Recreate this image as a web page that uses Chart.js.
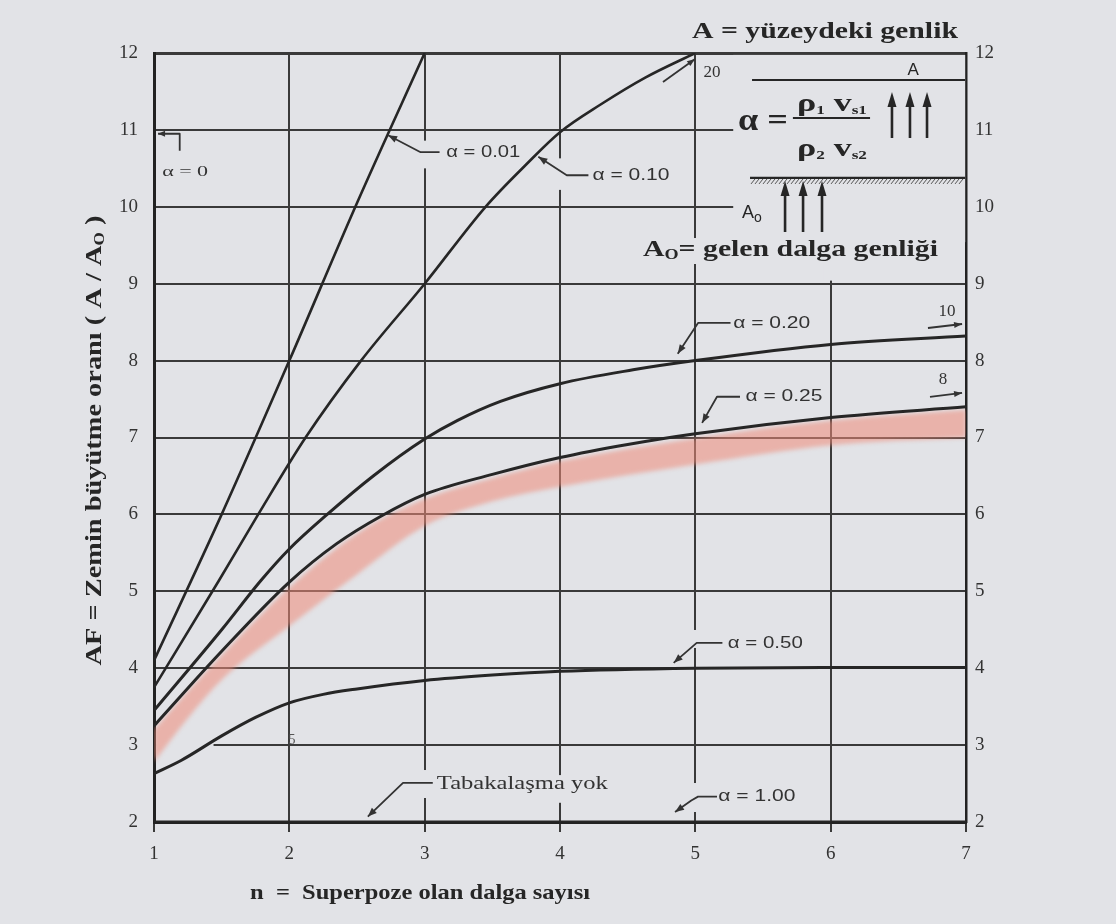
<!DOCTYPE html>
<html><head><meta charset="utf-8">
<script src="https://cdn.jsdelivr.net/npm/chart.js@4.4.1/dist/chart.umd.min.js"></script>
<style>
html,body{margin:0;padding:0;background:#e2e3e7;}
canvas{display:block;}
</style></head><body>
<canvas id="c" width="1116" height="924"></canvas>
<script>
// ---------- tick labels ----------
const xTicks = [1, 2, 3, 4, 5, 6, 7];
const yTicks = [2, 3, 4, 5, 6, 7, 8, 9, 10, 11, 12];

// ---------- series (n = superposed waves, AF = amplification) ----------
const n_a001 = [1, 1.5, 2, 2.5, 3];
const af_a001 = [4.1, 6.0, 8.0, 10.05, 12.0];

const n_a010 = [1, 1.48, 1.77, 2.12, 2.53, 3, 3.45, 3.75, 4, 4.3, 4.63, 5];
const af_a010 = [3.75, 5.14, 6.0, 7.0, 8.0, 9.0, 10.0, 10.55, 10.97, 11.33, 11.68, 12.0];

const n_a020 = [1, 1.5, 1.79, 2, 2.28, 2.62, 3, 3.24, 3.56, 4, 4.54, 5, 6, 7];
const af_a020 = [3.45, 4.5, 5.14, 5.55, 6.0, 6.5, 6.98, 7.22, 7.47, 7.7, 7.88, 8.0, 8.21, 8.32];

const n_a025 = [1, 1.5, 2, 2.35, 2.68, 3, 3.5, 4, 4.5, 5, 6, 7];
const af_a025 = [3.25, 4.22, 5.12, 5.62, 5.98, 6.26, 6.52, 6.74, 6.91, 7.05, 7.26, 7.4];

const n_a050 = [1, 1.2, 1.5, 1.75, 2, 2.25, 2.5, 3, 3.5, 4, 5, 6, 7];
const af_a050 = [2.63, 2.8, 3.12, 3.36, 3.55, 3.66, 3.73, 3.84, 3.91, 3.96, 4.0, 4.01, 4.01];

const n_a100 = [1, 7];
const af_a100 = [2, 2];

// shaded (pink) band
const n_band = [1, 1.25, 1.5, 2, 2.5, 3, 3.5, 4, 5, 6, 7];
const af_bandLow = [2.78, 3.35, 3.85, 4.55, 5.22, 5.85, 6.17, 6.36, 6.65, 6.9, 7.0];
const af_bandHigh = [3.2, 3.7, 4.17, 5.05, 5.75, 6.2, 6.47, 6.69, 6.99, 7.22, 7.36];

// ---------- annotation layout (data coordinates) ----------
const BG = '#e2e3e7';
const INK = '#262626';
const leaderLabels = [
  {text: 'α = 0.01', pts: [[2.73, 10.93], [2.97, 10.71], [3.11, 10.71]], at: [3.16, 10.71], w: 74},
  {text: 'α = 0.10', pts: [[3.84, 10.65], [4.05, 10.41], [4.21, 10.41]], at: [4.24, 10.41], w: 77},
  {text: 'α = 0.20', pts: [[4.87, 8.09], [5.02, 8.49], [5.26, 8.49]], at: [5.28, 8.49], w: 77},
  {text: 'α = 0.25', pts: [[5.05, 7.19], [5.16, 7.53], [5.33, 7.53]], at: [5.37, 7.53], w: 77},
  {text: 'α = 0.50', pts: [[4.84, 4.07], [5.01, 4.33], [5.20, 4.33]], at: [5.24, 4.33], w: 75},
  {text: 'α = 1.00', pts: [[4.85, 2.13], [4.97, 2.28], [5.02, 2.33], [5.16, 2.33]], at: [5.17, 2.33], w: 77},
  {text: 'Tabakalaşma yok', pts: [[2.58, 2.07], [2.84, 2.51], [3.06, 2.51]], at: [3.09, 2.49], w: 171, serif: true}
];
const knockouts = [
  [5.28, 11.975, 6.994, 9.54],
  [5.95, 9.54, 6.03, 9.04],
  [4.59, 9.594, 6.845, 9.256],
  [2.97, 10.86, 3.03, 10.50],
  [3.97, 10.63, 4.03, 10.22],
  [2.97, 2.676, 3.03, 2.312],
  [3.97, 2.61, 4.03, 2.25],
  [4.97, 2.507, 5.03, 2.13],
  [4.97, 4.497, 5.03, 4.263],
  [1.015, 3.04, 1.44, 2.96]
];

function pts(xs, ys) { return xs.map((x, i) => ({x: x, y: ys[i]})); }
const curveStyle = {borderColor: INK, borderWidth: 2.6, pointRadius: 0, fill: false,
  cubicInterpolationMode: 'monotone', order: 0};

function arrowHead(ctx, fx, fy, tx, ty, len, w) {
  const a = Math.atan2(ty - fy, tx - fx);
  ctx.beginPath();
  ctx.moveTo(tx, ty);
  ctx.lineTo(tx - len * Math.cos(a) + w * Math.sin(a), ty - len * Math.sin(a) - w * Math.cos(a));
  ctx.lineTo(tx - len * Math.cos(a) - w * Math.sin(a), ty - len * Math.sin(a) + w * Math.cos(a));
  ctx.closePath();
  ctx.fill();
}

function drawRuns(ctx, runs, x, y, o) {
  ctx.save();
  ctx.translate(x, y);
  if (o.rot) ctx.rotate(o.rot);
  const fam = o.family || 'Liberation Serif';
  const wt = o.weight || 'normal';
  const widths = runs.map(r => { ctx.font = wt + ' ' + r.size + 'px "' + fam + '"'; return ctx.measureText(r.t).width; });
  const total = widths.reduce((a, b) => a + b, 0);
  const sx = o.target ? o.target / total : 1;
  ctx.scale(sx, 1);
  let cur = o.align === 'center' ? -total / 2 : (o.align === 'right' ? -total : 0);
  ctx.textBaseline = 'middle';
  ctx.textAlign = 'left';
  ctx.fillStyle = o.color || INK;
  runs.forEach((r, i) => {
    ctx.font = wt + ' ' + r.size + 'px "' + fam + '"';
    ctx.fillText(r.t, cur, r.dy || 0);
    cur += widths[i];
  });
  ctx.restore();
}

const bgPlugin = {
  id: 'bgKnock',
  beforeDraw(c) {
    const ctx = c.ctx;
    ctx.save(); ctx.fillStyle = BG; ctx.fillRect(0, 0, c.width, c.height); ctx.restore();
  },
  beforeDatasetsDraw(c) {
    const ctx = c.ctx, X = v => c.scales.x.getPixelForValue(v), Y = v => c.scales.y.getPixelForValue(v);
    ctx.save();
    ctx.fillStyle = BG;
    knockouts.forEach(k => {
      const x1 = X(k[0]), x2 = X(k[2]), y1 = Y(k[1]), y2 = Y(k[3]);
      ctx.fillRect(Math.min(x1, x2), Math.min(y1, y2), Math.abs(x2 - x1), Math.abs(y2 - y1));
    });
    ctx.restore();
    ctx.filter = 'blur(2px)';
  },
  beforeDatasetDraw(c, args) { if (args.index < 6) c.ctx.filter = 'none'; },
  afterDatasetsDraw(c) { c.ctx.filter = 'none'; }
};

const annotPlugin = {
  id: 'annot',
  afterDraw(c) {
    const ctx = c.ctx, X = v => c.scales.x.getPixelForValue(v), Y = v => c.scales.y.getPixelForValue(v);
    ctx.save();
    ctx.strokeStyle = '#333'; ctx.fillStyle = '#333'; ctx.lineWidth = 1.8; ctx.lineJoin = 'round';

    // leader labels
    leaderLabels.forEach(l => {
      const p = l.pts.map(q => [X(q[0]), Y(q[1])]);
      ctx.beginPath();
      ctx.moveTo(p[0][0], p[0][1]);
      for (let i = 1; i < p.length; i++) ctx.lineTo(p[i][0], p[i][1]);
      ctx.stroke();
      arrowHead(ctx, p[1][0], p[1][1], p[0][0], p[0][1], 9, 3.5);
      drawRuns(ctx, [{t: l.text, size: l.serif ? 19 : 17}], X(l.at[0]), Y(l.at[1]),
        {family: l.serif ? 'Liberation Serif' : 'Liberation Sans', target: l.w, color: '#333'});
    });

    // alpha = 0 marker at the left axis
    {
      const p = [[1.03, 10.95], [1.19, 10.95], [1.19, 10.73]].map(q => [X(q[0]), Y(q[1])]);
      ctx.beginPath(); ctx.moveTo(p[2][0], p[2][1]); ctx.lineTo(p[1][0], p[1][1]); ctx.lineTo(p[0][0], p[0][1]); ctx.stroke();
      arrowHead(ctx, p[1][0], p[1][1], p[0][0], p[0][1], 7, 3);
      drawRuns(ctx, [{t: 'α = 0', size: 15}], X(1.23), Y(10.45), {align: 'center', target: 46, color: '#333'});
    }

    // side arrows: 20, 10, 8
    const sideArrows = [
      {t: '20', at: [5.123, 11.74], from: [4.761, 11.623], to: [4.998, 11.922]},
      {t: '10', at: [6.86, 8.632], from: [6.719, 8.424], to: [6.971, 8.476]},
      {t: '8', at: [6.83, 7.748], from: [6.734, 7.527], to: [6.971, 7.579]}
    ];
    sideArrows.forEach(a => {
      const fx = X(a.from[0]), fy = Y(a.from[1]), tx = X(a.to[0]), ty = Y(a.to[1]);
      ctx.beginPath(); ctx.moveTo(fx, fy); ctx.lineTo(tx, ty); ctx.stroke();
      arrowHead(ctx, fx, fy, tx, ty, 8, 3);
      drawRuns(ctx, [{t: a.t, size: 17}], X(a.at[0]), Y(a.at[1]), {align: 'center', color: '#333'});
    });
    drawRuns(ctx, [{t: '5', size: 14}], X(2.02), Y(3.066), {align: 'center', color: '#555'});

    // ---------- inset ----------
    drawRuns(ctx, [{t: 'A = yüzeydeki genlik', size: 23}], X(5.958), Y(12.273),
      {align: 'center', weight: 'bold', target: 266});
    ctx.lineWidth = 2.2; ctx.strokeStyle = INK; ctx.fillStyle = INK;
    ctx.beginPath(); ctx.moveTo(X(5.419), Y(11.649)); ctx.lineTo(X(6.993), Y(11.649)); ctx.stroke();
    drawRuns(ctx, [{t: 'A', size: 17}], X(6.609), Y(11.779), {align: 'center', family: 'Liberation Sans'});
    [6.453, 6.586, 6.712].forEach(x => {
      ctx.lineWidth = 2.6;
      ctx.beginPath(); ctx.moveTo(X(x), Y(10.895)); ctx.lineTo(X(x), Y(11.40)); ctx.stroke();
      arrowHead(ctx, X(x), Y(10.895), X(x), Y(11.493), 15, 4.5);
    });
    drawRuns(ctx, [{t: 'α =', size: 32}], X(5.315), Y(11.103), {weight: 'bold', target: 50});
    drawRuns(ctx, [{t: 'ρ', size: 25}, {t: '1', size: 12, dy: 6}, {t: ' v', size: 25}, {t: 's1', size: 12, dy: 6}],
      X(5.751), Y(11.324), {weight: 'bold', target: 70});
    drawRuns(ctx, [{t: 'ρ', size: 25}, {t: '2', size: 12, dy: 6}, {t: ' v', size: 25}, {t: 's2', size: 12, dy: 6}],
      X(5.751), Y(10.739), {weight: 'bold', target: 70});
    ctx.lineWidth = 1.8;
    ctx.beginPath(); ctx.moveTo(X(5.721), Y(11.155)); ctx.lineTo(X(6.291), Y(11.155)); ctx.stroke();
    // hatched boundary
    ctx.lineWidth = 2.2;
    const hy = Y(10.375);
    ctx.beginPath(); ctx.moveTo(X(5.404), hy); ctx.lineTo(X(6.993), hy); ctx.stroke();
    ctx.lineWidth = 1; ctx.strokeStyle = '#555';
    for (let px = X(5.404) + 5; px < X(6.993); px += 4) {
      ctx.beginPath(); ctx.moveTo(px, hy + 1); ctx.lineTo(px - 4, hy + 6); ctx.stroke();
    }
    ctx.strokeStyle = INK;
    [5.663, 5.796, 5.936].forEach(x => {
      ctx.lineWidth = 2.6;
      ctx.beginPath(); ctx.moveTo(X(x), Y(9.672)); ctx.lineTo(X(x), Y(10.24)); ctx.stroke();
      arrowHead(ctx, X(x), Y(9.672), X(x), Y(10.336), 15, 4.5);
    });
    drawRuns(ctx, [{t: 'A', size: 18}, {t: 'o', size: 14, dy: 5}], X(5.345), Y(9.919), {family: 'Liberation Sans'});
    drawRuns(ctx, [{t: 'A', size: 23}, {t: 'O', size: 14, dy: 5}, {t: '= gelen dalga genliği', size: 23}],
      X(4.613), Y(9.438), {weight: 'bold', target: 295});

    // ---------- axis titles ----------
    drawRuns(ctx, [{t: 'AF = Zemin büyütme oranı ( A / A', size: 23}, {t: 'O', size: 14, dy: 5}, {t: ' )', size: 23}],
      95, (c.chartArea.top + c.chartArea.bottom) / 2 + 3, {align: 'center', weight: 'bold', rot: -Math.PI / 2, target: 450});
    drawRuns(ctx, [{t: 'n  =  Superpoze olan dalga sayısı', size: 22}], 420, 893,
      {align: 'center', weight: 'bold', target: 340});
    ctx.restore();
  }
};

const tickFont = {family: 'Liberation Serif', size: 19};
const chart = new Chart(document.getElementById('c').getContext('2d'), {
  type: 'line',
  data: {
    datasets: [
      Object.assign({label: 'α = 0.01', data: pts(n_a001, af_a001)}, curveStyle),
      Object.assign({label: 'α = 0.10', data: pts(n_a010, af_a010)}, curveStyle),
      Object.assign({label: 'α = 0.20', data: pts(n_a020, af_a020)}, curveStyle, {borderWidth: 3}),
      Object.assign({label: 'α = 0.25', data: pts(n_a025, af_a025)}, curveStyle, {borderWidth: 3}),
      Object.assign({label: 'α = 0.50', data: pts(n_a050, af_a050)}, curveStyle, {borderWidth: 3}),
      Object.assign({label: 'α = 1.00', data: pts(n_a100, af_a100)}, curveStyle, {borderWidth: 3}),
      {label: 'band low', data: pts(n_band, af_bandLow), borderColor: 'rgba(0,0,0,0)', borderWidth: 0,
        pointRadius: 0, fill: false, order: 10, cubicInterpolationMode: 'monotone'},
      {label: 'band high', data: pts(n_band, af_bandHigh), borderColor: 'rgba(0,0,0,0)', borderWidth: 0,
        pointRadius: 0, fill: '-1', backgroundColor: 'rgba(238,138,120,0.55)', order: 10, cubicInterpolationMode: 'monotone'}
    ]
  },
  options: {
    responsive: false, animation: false, devicePixelRatio: 1,
    layout: {padding: {top: 53, left: 0, right: 0, bottom: 0}},
    plugins: {legend: {display: false}, tooltip: {enabled: false}},
    scales: {
      x: {
        type: 'linear', min: 1, max: 7, position: 'bottom',
        afterFit: s => { s.height = 102; },
        afterBuildTicks: s => { s.ticks = xTicks.map(v => ({value: v})); },
        ticks: {font: tickFont, color: '#333', padding: 11, maxRotation: 0, autoSkip: false},
        grid: {color: '#3a3a3a', lineWidth: 2, drawTicks: true, tickLength: 10, tickColor: '#3a3a3a', tickWidth: 2},
        border: {display: true, color: '#222', width: 3}
      },
      y: {
        type: 'linear', min: 2, max: 12, position: 'left',
        afterFit: s => { s.width = 154; },
        afterBuildTicks: s => { s.ticks = yTicks.map(v => ({value: v})); },
        ticks: {font: tickFont, color: '#333', padding: 16},
        grid: {color: '#3a3a3a', lineWidth: ctx => (ctx.tick && ctx.tick.value === 12 ? 3 : 2), drawTicks: false},
        border: {display: true, color: '#222', width: 3}
      },
      y2: {
        type: 'linear', min: 2, max: 12, position: 'right',
        afterFit: s => { s.width = 150; },
        afterBuildTicks: s => { s.ticks = yTicks.map(v => ({value: v})); },
        ticks: {font: tickFont, color: '#333', padding: 9},
        grid: {display: false, drawTicks: false},
        border: {display: true, color: '#222', width: 2.5}
      }
    }
  },
  plugins: [bgPlugin, annotPlugin]
});
</script>
</body></html>
